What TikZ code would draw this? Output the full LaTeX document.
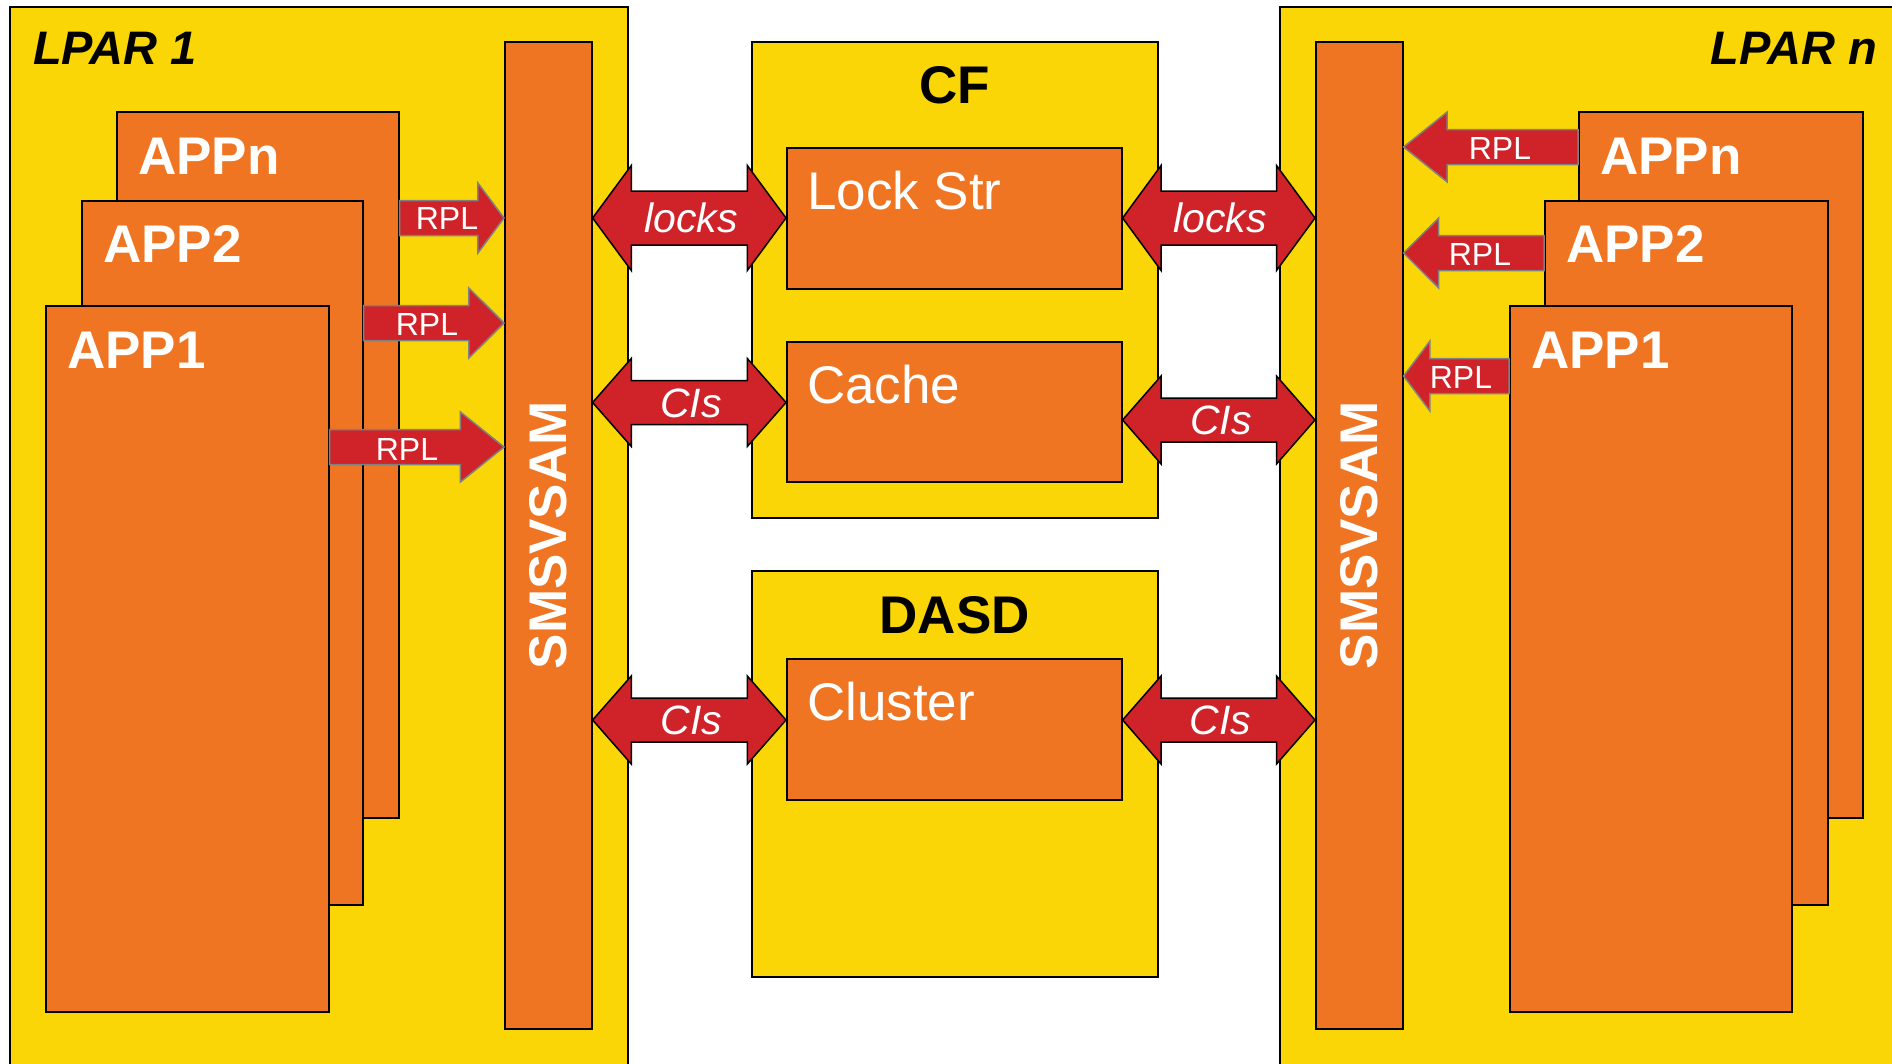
\documentclass[tikz,border=0pt]{standalone}
\usepackage{fontspec}
\setmainfont{Liberation Sans}
\usetikzlibrary{calc}

\definecolor{lparyellow}{RGB}{250,214,6}
\definecolor{apporange}{RGB}{239,117,35}
\definecolor{arrowred}{RGB}{207,34,41}
\definecolor{rplgray}{RGB}{128,128,128}

\tikzset{
	lparbox/.style={draw=black, fill=lparyellow, line width=1.6pt, inner sep=0pt, anchor=north west},
	appbox/.style={draw=black, fill=apporange, line width=1.6pt, inner sep=0pt, anchor=north west},
	applabel/.style={text=white, inner sep=0pt, anchor=base west, font=\bfseries\fontsize{53}{53}\selectfont},
	lparlabel/.style={inner sep=0pt, font=\bfseries\itshape\fontsize{47}{47}\selectfont},
	boxlabel/.style={inner sep=0pt, anchor=base, font=\bfseries\fontsize{53}{53}\selectfont},
	storelabel/.style={text=white, inner sep=0pt, anchor=base west, font=\fontsize{53}{53}\selectfont},
	smslabel/.style={text=white, inner sep=0pt, rotate=90, font=\bfseries\fontsize{53}{53}\selectfont},
	rpllabel/.style={text=white, inner sep=0pt, font=\fontsize{32}{32}\selectfont},
	dbllabel/.style={text=white, inner sep=0pt, font=\itshape\fontsize{41}{41}\selectfont},
	% block arrow, head = 1/4 of the length
	rplarrow/.style={fill=arrowred, draw=rplgray, line width=1.5pt, line join=miter,
		to path={let \p1=(\tikztostart), \p2=(\tikztotarget), \n1={0.25*(\x2-\x1)} in
			(\x1,\y1+17.5pt) -- ({\x2-\n1},\y1+17.5pt) -- ({\x2-\n1},\y1+35pt) -- (\p2)
			-- ({\x2-\n1},\y1-35pt) -- ({\x2-\n1},\y1-17.5pt) -- (\x1,\y1-17.5pt) -- cycle}},
	% double block arrow: #1 half shaft, #2 half head
	dblarrow/.style 2 args={fill=arrowred, draw=black, line width=1.5pt, line join=miter,
		to path={let \p1=(\tikztostart), \p2=(\tikztotarget), \n1={0.2*(\x2-\x1)} in
			(\p1) -- ({\x1+\n1},\y1+#2) -- ({\x1+\n1},\y1+#1) -- ({\x2-\n1},\y1+#1)
			-- ({\x2-\n1},\y1+#2) -- (\p2) -- ({\x2-\n1},\y1-#2) -- ({\x2-\n1},\y1-#1)
			-- ({\x1+\n1},\y1-#1) -- ({\x1+\n1},\y1-#2) -- cycle}}
}

\begin{document}
\begin{tikzpicture}[x=1pt,y=-1pt]
	
	\useasboundingbox (0,0) rectangle (1892,1063);
	\fill[white] (0,0) rectangle (1892,1063);
	
	% LPAR 1
	\node[lparbox, minimum width=618pt, minimum height=1064pt] (lpar1) at (9,6) {};
	\node[lparlabel, anchor=base west] (lpar1t) at ([shift={(24,58)}]lpar1.north west) {LPAR 1};
	\node[appbox, minimum width=282pt, minimum height=706pt] (appnL) at (116,111) {};
	\node[applabel] (appnLt) at ([shift={(22,63)}]appnL.north west) {APPn};
	\node[appbox, minimum width=281pt, minimum height=704pt] (app2L) at (81,200) {};
	\node[applabel] (app2Lt) at ([shift={(22,62)}]app2L.north west) {APP2};
	\node[appbox, minimum width=283pt, minimum height=706pt] (app1L) at (45,305) {};
	\node[applabel] (app1Lt) at ([shift={(22,63)}]app1L.north west) {APP1};
	\node[appbox, minimum width=87pt, minimum height=987pt] (smsL) at (504,41) {};
	\node[smslabel] (smsLt) at (smsL.center) {SMSVSAM};
	
	% LPAR n
	\node[lparbox, minimum width=621pt, minimum height=1064pt] (lparn) at (1279,6) {};
	\node[lparlabel, anchor=base east] (lparnt) at (1877,64) {LPAR n};
	\node[appbox, minimum width=284pt, minimum height=706pt] (appnR) at (1578,111) {};
	\node[applabel] (appnRt) at ([shift={(22,63)}]appnR.north west) {APPn};
	\node[appbox, minimum width=283pt, minimum height=704pt] (app2R) at (1544,200) {};
	\node[applabel] (app2Rt) at ([shift={(22,62)}]app2R.north west) {APP2};
	\node[appbox, minimum width=282pt, minimum height=706pt] (app1R) at (1509,305) {};
	\node[applabel] (app1Rt) at ([shift={(22,63)}]app1R.north west) {APP1};
	\node[appbox, minimum width=87pt, minimum height=987pt] (smsR) at (1315,41) {};
	\node[smslabel] (smsRt) at (smsR.center) {SMSVSAM};
	
	% CF and DASD
	\node[lparbox, minimum width=406pt, minimum height=476pt] (cf) at (751,41) {};
	\node[boxlabel] (cft) at ([shift={(0,62)}]cf.north) {CF};
	\node[appbox, minimum width=335pt, minimum height=141pt] (lockstr) at (786,147) {};
	\node[storelabel] (lockstrt) at ([shift={(21,62)}]lockstr.north west) {Lock Str};
	\node[appbox, minimum width=335pt, minimum height=140pt] (cache) at (786,341) {};
	\node[storelabel] (cachet) at ([shift={(21,62)}]cache.north west) {Cache};
	
	\node[lparbox, minimum width=406pt, minimum height=406pt] (dasd) at (751,570) {};
	\node[boxlabel] (dasdt) at ([shift={(0,63)}]dasd.north) {DASD};
	\node[appbox, minimum width=335pt, minimum height=141pt] (cluster) at (786,658) {};
	\node[storelabel] (clustert) at ([shift={(21,62)}]cluster.north west) {Cluster};
	
	% RPL arrows
	\draw[rplarrow] (appnL.east |- 0,218) to (smsL.west |- 0,218);
	\node[rpllabel] (rplL3) at (447,218.5) {RPL};
	\draw[rplarrow] (app2L.east |- 0,323) to (smsL.west |- 0,323);
	\node[rpllabel] (rplL2) at (427,324) {RPL};
	\draw[rplarrow] (app1L.east |- 0,447) to (smsL.west |- 0,447);
	\node[rpllabel] (rplL1) at (407,449) {RPL};
	
	\draw[rplarrow] (appnR.west |- 0,147) to (smsR.east |- 0,147);
	\node[rpllabel] (rplR3) at (1500,148) {RPL};
	\draw[rplarrow] (app2R.west |- 0,253) to (smsR.east |- 0,253);
	\node[rpllabel] (rplR2) at (1480,254) {RPL};
	\draw[rplarrow] (app1R.west |- 0,376) to (smsR.east |- 0,376);
	\node[rpllabel] (rplR1) at (1461,377.5) {RPL};
	
	% locks and CIs
	\draw[dblarrow={27pt}{52.5pt}] (smsL.east |- 0,218) to (lockstr.west |- 0,218);
	\node[dbllabel] (locksL) at (691,218) {locks};
	\draw[dblarrow={22pt}{44pt}] (smsL.east |- 0,402.5) to (cache.west |- 0,402.5);
	\node[dbllabel] (cisL1) at (691,403.5) {CIs};
	\draw[dblarrow={22pt}{44pt}] (smsL.east |- 0,720) to (cluster.west |- 0,720);
	\node[dbllabel] (cisL2) at (691.5,720.5) {CIs};
	
	\draw[dblarrow={27pt}{52.5pt}] (lockstr.east |- 0,218) to (smsR.west |- 0,218);
	\node[dbllabel] (locksR) at (1220,218) {locks};
	\draw[dblarrow={22pt}{44pt}] (cache.east |- 0,420) to (smsR.west |- 0,420);
	\node[dbllabel] (cisR1) at (1221,420.5) {CIs};
	\draw[dblarrow={22pt}{44pt}] (cluster.east |- 0,720) to (smsR.west |- 0,720);
	\node[dbllabel] (cisR2) at (1220.5,720.5) {CIs};
	
\end{tikzpicture}
\end{document}
